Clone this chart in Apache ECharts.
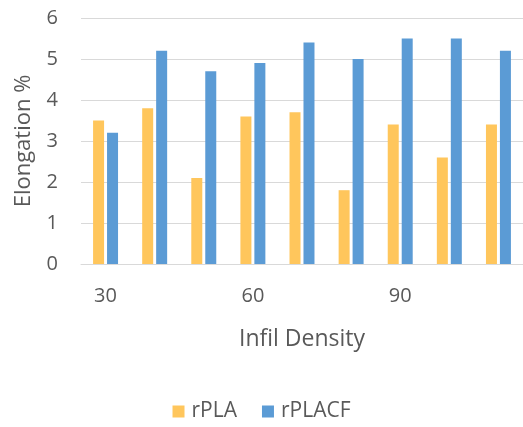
<!DOCTYPE html>
<html><head><meta charset="utf-8">
<script src="https://cdn.jsdelivr.net/npm/echarts@6/dist/echarts.min.js"></script>
<style>html,body{margin:0;padding:0;background:#fff}#c{width:523px;height:427px}</style>
</head><body><div id="c"></div>
<script>
const categories = ['30-a','30-b','30-c','60-a','60-b','60-c','90-a','90-b','90-c'];
const tickLabels = ['30','60','90'];
const rPLA = [3.5, 3.8, 2.1, 3.6, 3.7, 1.8, 3.4, 2.6, 3.4];
const rPLACF = [3.2, 5.2, 4.7, 4.9, 5.4, 5.0, 5.5, 5.5, 5.2];
const yTicks = [0, 1, 2, 3, 4, 5, 6];

const font = 'Open Sans';
const chart = echarts.init(document.getElementById('c'), null, {renderer: 'canvas'});
chart.setOption({
  animation: false,
  textStyle: {fontFamily: font},
  grid: {left: 81, top: 18, width: 445.5, height: 246, containLabel: false},
  legend: {
    data: ['rPLA', 'rPLACF'], bottom: 0, left: 'center',
    itemWidth: 12, itemHeight: 12, itemGap: 25, icon: 'rect',
    textStyle: {fontFamily: font, fontSize: 21, color: '#595959', padding: [0, 0, 0, 2]}
  },
  xAxis: {
    type: 'category', data: categories,
    name: 'Infil Density', nameLocation: 'middle', nameGap: 64,
    nameTextStyle: {fontFamily: font, fontSize: 23, color: '#595959'},
    axisLine: {show: true, lineStyle: {color: '#D9D9D9', width: 1}},
    axisTick: {show: false},
    axisLabel: {
      interval: 2, margin: 22, fontSize: 20, color: '#595959', fontFamily: font,
      formatter: v => tickLabels[Math.floor(categories.indexOf(v) / 3)]
    }
  },
  yAxis: {
    type: 'value', min: yTicks[0], max: yTicks[yTicks.length - 1], interval: 1,
    name: 'Elongation %', nameLocation: 'middle', nameGap: 46, nameRotate: 90,
    nameTextStyle: {fontFamily: font, fontSize: 22, color: '#595959'},
    axisLine: {show: false}, axisTick: {show: false},
    axisLabel: {margin: 23, fontSize: 20, color: '#595959', fontFamily: font},
    splitLine: {lineStyle: {color: '#D9D9D9', width: 1}}
  },
  series: [
    {name: 'rPLA', type: 'bar', data: rPLA, barWidth: 11, barGap: '27%',
     itemStyle: {color: '#FFC65C'}},
    {name: 'rPLACF', type: 'bar', data: rPLACF, barWidth: 11,
     itemStyle: {color: '#5B9BD5'}}
  ]
});
</script></body></html>
